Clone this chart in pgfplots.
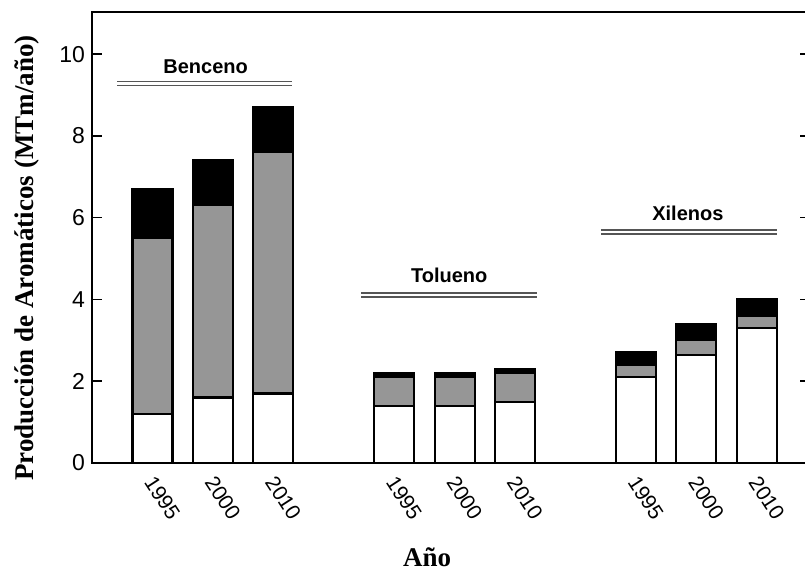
\documentclass[border=0pt]{standalone}
\usepackage{fontspec}
\setmainfont{Liberation Serif}
\setsansfont{Liberation Sans}
\usepackage{pgfplots}
\usepackage{pgfplotstable}
\pgfplotsset{compat=1.18}

\definecolor{midgrey}{HTML}{969696}
\definecolor{rulegrey}{HTML}{555555}

% x position, fresh/white, grey and black layers (MTm/year)
\pgfplotstableread{
x    w     g     k
0    1.20  4.30  1.20
1    1.60  4.70  1.10
2    1.70  5.90  1.10
4    1.40  0.70  0.10
5    1.40  0.70  0.10
6    1.50  0.70  0.10
8    2.10  0.30  0.30
9    2.65  0.35  0.40
10   3.30  0.30  0.40
}\datatable

\pgfplotstableread{
x      y
-0.58  9.29
2.31   9.29
}\rulebenz
\pgfplotstableread{
x      y
3.45   4.11
6.37   4.11
}\ruletol
\pgfplotstableread{
x      y
7.42   5.65
10.33  5.65
}\rulexyl

\begin{document}
\begin{tikzpicture}
\begin{axis}[
  width=359pt, height=225.5pt, scale only axis,
  xmin=-1, xmax=10.88, ymin=0, ymax=11.03,
  ybar stacked, bar width=20pt,
  xtick={0,1,2,4,5,6,8,9,10},
  xticklabels={1995,2000,2010,1995,2000,2010,1995,2000,2010},
  x tick style={draw=none},
  ytick={0,2,4,6,8,10},
  y tick style={line width=0.8pt, black},
  major tick length=5pt,
  axis line style={line width=1.3pt},
  ticklabel style={font=\sffamily\fontsize{11.5}{13}\selectfont},
  /pgf/number format/assume math mode=true,
  xticklabel style={font=\sffamily\fontsize{10.5}{12}\selectfont,
    xshift=-1.5pt, yshift=-7.5pt, rotate=-57, anchor=west, inner sep=0pt},
  xlabel={Año},
  ylabel={Producción de Aromáticos (MTm/año)},
  label style={font=\bfseries\fontsize{13.5}{15}\selectfont},
  xlabel style={at={(axis description cs:0.4666,-0.208)}, anchor=center},
  ylabel style={at={(axis description cs:-0.0905,0.4545)}, anchor=center},
  clip=false,
]
\addplot[fill=white, draw=black, line width=1.1pt] table[x=x, y=w] {\datatable};
\addplot[fill=midgrey, draw=black, line width=1.1pt] table[x=x, y=g] {\datatable};
\addplot[fill=black, draw=black, line width=1.1pt] table[x=x, y=k] {\datatable};

% double rules over each group
\pgfplotsset{grouprule/.style={stack plots=false, sharp plot, draw=rulegrey,
  line width=0.6pt, double=white, double distance=1.4pt, forget plot}}
\addplot[grouprule] table {\rulebenz};
\addplot[grouprule] table {\ruletol};
\addplot[grouprule] table {\rulexyl};

\node[font=\sffamily\bfseries\fontsize{10}{12}\selectfont] at (axis cs:0.88,9.68) {Benceno};
\node[font=\sffamily\bfseries\fontsize{10}{12}\selectfont] at (axis cs:4.91,4.6) {Tolueno};
\node[font=\sffamily\bfseries\fontsize{10}{12}\selectfont] at (axis cs:8.86,6.11) {Xilenos};

\coordinate (O) at (rel axis cs:0,0);
\end{axis}
\pgfresetboundingbox
\path (O) ++(-46pt,-54.5pt) rectangle ++(402.5pt,286pt);
\end{tikzpicture}
\end{document}
